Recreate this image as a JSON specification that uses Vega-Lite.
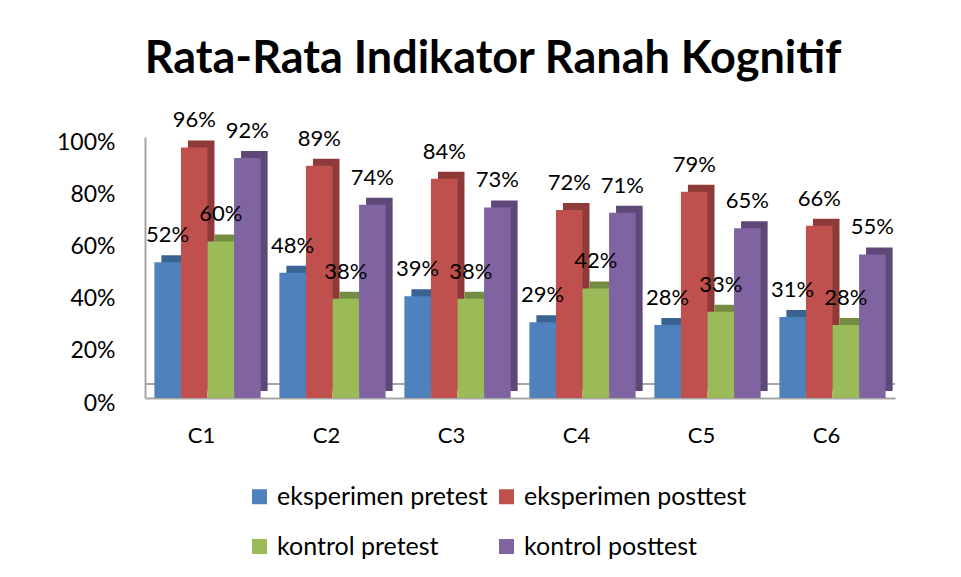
{
  "$schema": "https://vega.github.io/schema/vega-lite/v6.json",
  "autosize": "none",
  "width": 750,
  "height": 261,
  "padding": {"left": 145, "top": 137, "right": 66, "bottom": 179},
  "background": "white",
  "title": {
    "text": "Rata-Rata Indikator Ranah Kognitif",
    "font": "Lato",
    "fontSize": 45,
    "fontWeight": "bold",
    "color": "black",
    "anchor": "middle",
    "dx": -27,
    "offset": 27
  },
  "config": {
    "view": {"stroke": null},
    "font": "Lato"
  },
  "data": {
    "values": [
      {"kategori": "C1", "kelompok": "eksperimen pretest", "nilai": 0.52},
      {"kategori": "C1", "kelompok": "eksperimen posttest", "nilai": 0.96},
      {"kategori": "C1", "kelompok": "kontrol pretest", "nilai": 0.60},
      {"kategori": "C1", "kelompok": "kontrol posttest", "nilai": 0.92},
      {"kategori": "C2", "kelompok": "eksperimen pretest", "nilai": 0.48},
      {"kategori": "C2", "kelompok": "eksperimen posttest", "nilai": 0.89},
      {"kategori": "C2", "kelompok": "kontrol pretest", "nilai": 0.38},
      {"kategori": "C2", "kelompok": "kontrol posttest", "nilai": 0.74},
      {"kategori": "C3", "kelompok": "eksperimen pretest", "nilai": 0.39},
      {"kategori": "C3", "kelompok": "eksperimen posttest", "nilai": 0.84},
      {"kategori": "C3", "kelompok": "kontrol pretest", "nilai": 0.38},
      {"kategori": "C3", "kelompok": "kontrol posttest", "nilai": 0.73},
      {"kategori": "C4", "kelompok": "eksperimen pretest", "nilai": 0.29},
      {"kategori": "C4", "kelompok": "eksperimen posttest", "nilai": 0.72},
      {"kategori": "C4", "kelompok": "kontrol pretest", "nilai": 0.42},
      {"kategori": "C4", "kelompok": "kontrol posttest", "nilai": 0.71},
      {"kategori": "C5", "kelompok": "eksperimen pretest", "nilai": 0.28},
      {"kategori": "C5", "kelompok": "eksperimen posttest", "nilai": 0.79},
      {"kategori": "C5", "kelompok": "kontrol pretest", "nilai": 0.33},
      {"kategori": "C5", "kelompok": "kontrol posttest", "nilai": 0.65},
      {"kategori": "C6", "kelompok": "eksperimen pretest", "nilai": 0.31},
      {"kategori": "C6", "kelompok": "eksperimen posttest", "nilai": 0.66},
      {"kategori": "C6", "kelompok": "kontrol pretest", "nilai": 0.28},
      {"kategori": "C6", "kelompok": "kontrol posttest", "nilai": 0.55}
    ]
  },
  "encoding": {
    "x": {
      "field": "kategori",
      "type": "nominal",
      "scale": {"paddingInner": 0.15, "paddingOuter": 0.075},
      "axis": {
        "title": null,
        "labelAngle": 0,
        "labelFont": "Lato",
        "labelFontSize": 22,
        "labelColor": "black",
        "labelPadding": 27,
        "labelOffset": -6,
        "ticks": false,
        "domainColor": "#a6a6a6",
        "domainWidth": 2
      }
    },
    "y": {
      "field": "nilai",
      "type": "quantitative",
      "scale": {"domain": [0, 1]},
      "axis": {
        "title": null,
        "format": ".0%",
        "values": [0, 0.2, 0.4, 0.6, 0.8, 1],
        "labelFont": "Lato",
        "labelFontSize": 23,
        "labelColor": "black",
        "labelPadding": 30,
        "labelOffset": 5,
        "ticks": false,
        "grid": false,
        "domainColor": "#a6a6a6",
        "domainWidth": 2
      }
    }
  },
  "layer": [
    {
      "mark": {"type": "rule", "color": "#a6a6a6", "strokeWidth": 2, "yOffset": -14},
      "encoding": {"y": {"datum": 0}, "x": null}
    },
    {
      "mark": {"type": "bar", "yOffset": -7, "y2Offset": -7},
      "encoding": {
        "xOffset": {
          "field": "kelompok",
          "type": "nominal",
          "sort": ["eksperimen pretest", "eksperimen posttest", "kontrol pretest", "kontrol posttest"],
          "scale": {"range": [7, 113.25]}
        },
        "color": {
          "field": "kelompok",
          "type": "nominal",
          "scale": {
            "domain": ["eksperimen pretest", "eksperimen posttest", "kontrol pretest", "kontrol posttest"],
            "range": ["#3A6393", "#8E3A38", "#748C42", "#5E4878"]
          },
          "legend": null
        }
      }
    },
    {
      "layer": [
        {
          "mark": {"type": "bar"},
          "encoding": {
            "color": {
              "field": "kelompok",
              "type": "nominal",
              "scale": {
                "domain": ["eksperimen pretest", "eksperimen posttest", "kontrol pretest", "kontrol posttest"],
                "range": ["#4F81BD", "#C0504D", "#9BBB59", "#8064A2"]
              },
              "legend": {
                "title": null,
                "orient": "none",
                "legendX": 102,
                "legendY": 347,
                "direction": "horizontal",
                "columns": 2,
                "columnPadding": 6,
                "rowPadding": 24,
                "symbolType": "square",
                "symbolSize": 225,
                "symbolStrokeWidth": 0,
                "symbolOpacity": 1,
                "labelFont": "Lato",
                "labelFontSize": 25,
                "labelColor": "black",
                "labelOffset": 5,
                "labelLimit": 400
              }
            }
          }
        },
        {
          "mark": {"type": "text", "font": "Lato", "fontSize": 22, "color": "black", "baseline": "middle", "dy": -27},
          "encoding": {
            "text": {"field": "nilai", "type": "quantitative", "format": ".0%"}
          }
        }
      ],
      "encoding": {
        "xOffset": {
          "field": "kelompok",
          "type": "nominal",
          "sort": ["eksperimen pretest", "eksperimen posttest", "kontrol pretest", "kontrol posttest"]
        }
      }
    }
  ],
  "resolve": {"scale": {"color": "independent", "xOffset": "independent"}}
}
